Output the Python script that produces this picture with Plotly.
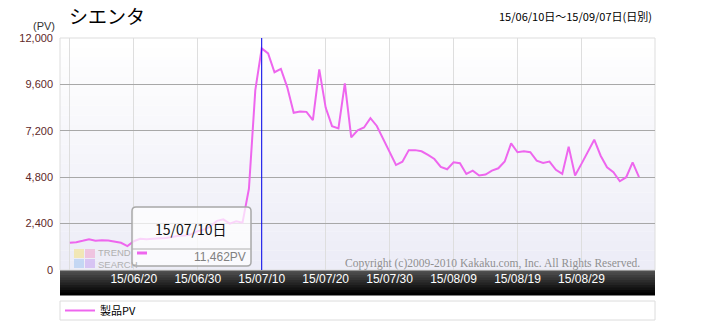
import plotly.graph_objects as go
import pandas as pd

# ---- data ----
start_date = "2015-06-10"
pv_values = [
    1410, 1440, 1510, 1590, 1510, 1540, 1530, 1460, 1410, 1240,
    1490, 1610, 1590, 1610, 1630, 1660, 1710, 1770, 1780, 1850,
    2010, 2090, 2260, 2540, 2620, 2400, 2520, 2450, 4200, 9300,
    11462, 11200, 10230, 10400, 9450, 8130, 8200, 8180, 7750, 10380,
    8400, 7440, 7320, 9650, 6860, 7230, 7370, 7850, 7450, 6800,
    6120, 5430, 5600, 6200, 6200, 6140, 5950, 5740, 5330, 5210,
    5570, 5520, 4970, 5140, 4890, 4940, 5140, 5260, 5610, 6550,
    6090, 6140, 6090, 5660, 5540, 5610, 5180, 4970, 6380, 4890,
    5490, 6090, 6740, 5910, 5310, 5060, 4590, 4800, 5570, 4800,
]
dates = pd.date_range(start_date, periods=len(pv_values), freq="D")
x_tick_dates = ["2015-06-10", "2015-06-20", "2015-06-30", "2015-07-10", "2015-07-20",
                "2015-07-30", "2015-08-09", "2015-08-19", "2015-08-29"]
x_tick_labels = ["", "15/06/20", "15/06/30", "15/07/10", "15/07/20",
                 "15/07/30", "15/08/09", "15/08/19", "15/08/29"]
y_tick_vals = [0, 2400, 4800, 7200, 9600, 12000]
y_tick_labels = ["0", "2,400", "4,800", "7,200", "9,600", "12,000"]
title_text = "シエンタ"
range_text = "15/06/10日～15/09/07日(日別)"
series_name = "製品PV"
copyright_text = "Copyright (c)2009-2010 Kakaku.com, Inc. All Rights Reserved."

# ---- geometry helpers (pixel -> paper) ----
W, H = 715, 321
L, R, T, B = 60, 655, 38, 270
def px(xp):
    return (xp - L) / (R - L)
def py(yp):
    return (B - yp) / (B - T)

peak_i = max(range(len(pv_values)), key=lambda i: pv_values[i])
peak_date = dates[peak_i]
peak_val = pv_values[peak_i]

fig = go.Figure()
fig.add_trace(go.Scatter(
    x=dates, y=pv_values, mode="lines", name=series_name,
    line=dict(color="#ee66ee", width=2), hoverinfo="skip",
))

shapes = []
# plot background gradient
nb = 24
for i in range(nb):
    t = i / (nb - 1)
    r = int(255 - 18 * t); g = int(255 - 18 * t); b = int(255 - 8 * t)
    shapes.append(dict(type="rect", xref="paper", yref="paper", layer="below",
                       x0=0, x1=1, y0=1 - (i + 1) / nb, y1=1 - i / nb,
                       fillcolor=f"rgb({r},{g},{b})", line=dict(width=0)))
# black axis band
nbb = 10
for i in range(nbb):
    t = i / (nbb - 1)
    c = int(80 * (1 - t))
    y0p = 270 + i * 25 / nbb
    shapes.append(dict(type="rect", xref="paper", yref="paper", layer="below",
                       x0=0, x1=1, y0=py(y0p + 25 / nbb + 0.5), y1=py(y0p),
                       fillcolor=f"rgb({c},{c},{c})", line=dict(width=0)))
# legend box
shapes.append(dict(type="rect", xref="paper", yref="paper", layer="below",
                   x0=0, x1=1, y0=py(320), y1=py(301),
                   fillcolor="white", line=dict(color="#dcdcdc", width=1)))
# frame
shapes.append(dict(type="rect", xref="paper", yref="paper", layer="below",
                   x0=0, x1=1, y0=0, y1=1, line=dict(color="#dddddd", width=1)))
# peak marker line
shapes.append(dict(type="line", xref="x", yref="paper", x0=peak_date, x1=peak_date,
                   y0=0, y1=1, line=dict(color="#0000ee", width=1)))

# logo squares (TREND SEARCH)
logo = [(74, 249, 84, 258, "#f4e38a"), (85, 249, 95, 258, "#f0a8d0"),
        (74, 259, 84, 268, "#a8c8f0"), (85, 259, 95, 268, "#c8a8f0")]
for x0, y0, x1, y1, c in logo:
    shapes.append(dict(type="rect", xref="paper", yref="paper", layer="above",
                       x0=px(x0), x1=px(x1), y0=py(y1), y1=py(y0),
                       fillcolor=c, opacity=0.6, line=dict(width=0)))

# tooltip rounded box
bx0, bx1, by0, by1, rr = 132, 251, 207, 266, 4
path = (f"M {px(bx0+rr)},{py(by0)} L {px(bx1-rr)},{py(by0)} "
        f"Q {px(bx1)},{py(by0)} {px(bx1)},{py(by0+rr)} L {px(bx1)},{py(by1-rr)} "
        f"Q {px(bx1)},{py(by1)} {px(bx1-rr)},{py(by1)} L {px(bx0+rr)},{py(by1)} "
        f"Q {px(bx0)},{py(by1)} {px(bx0)},{py(by1-rr)} L {px(bx0)},{py(by0+rr)} "
        f"Q {px(bx0)},{py(by0)} {px(bx0+rr)},{py(by0)} Z")
shapes.append(dict(type="path", xref="paper", yref="paper", layer="above", path=path,
                   fillcolor="rgba(255,255,255,0.72)", line=dict(color="#a8a8a8", width=1.5)))
shapes.append(dict(type="line", xref="paper", yref="paper", layer="above",
                   x0=px(bx0), x1=px(bx1), y0=py(249), y1=py(249),
                   line=dict(color="#b0b0b0", width=1)))
shapes.append(dict(type="line", xref="paper", yref="paper", layer="above",
                   x0=px(137), x1=px(147), y0=py(253), y1=py(253),
                   line=dict(color="#ee66ee", width=3)))

annotations = [
    dict(text=title_text, x=px(67), y=py(16), xref="paper", yref="paper",
         xanchor="left", yanchor="middle", showarrow=False,
         font=dict(family="Noto Sans CJK JP", size=19, color="#000000")),
    dict(text="(PV)", x=px(57), y=py(26), xref="paper", yref="paper",
         xanchor="right", yanchor="middle", showarrow=False,
         font=dict(family="Liberation Sans, Arial", size=11, color="#333333")),
    dict(text=range_text, x=px(654), y=py(16), xref="paper", yref="paper",
         xanchor="right", yanchor="middle", showarrow=False,
         font=dict(family="Noto Sans CJK JP", size=11, color="#000000")),
    dict(text=copyright_text, x=px(642), y=py(263), xref="paper", yref="paper",
         xanchor="right", yanchor="middle", showarrow=False,
         font=dict(family="Liberation Serif, Times New Roman", size=11.5, color="#909090")),
    dict(text="TREND<br>SEARCH", x=px(96), y=py(258), xref="paper", yref="paper",
         xanchor="left", yanchor="middle", showarrow=False, align="left",
         font=dict(family="Liberation Sans, Arial", size=9.5, color="#b0b0b0")),
    dict(text=peak_date.strftime("%y/%m/%d") + "日", x=px(191), y=py(229),
         xref="paper", yref="paper", xanchor="center", yanchor="middle", showarrow=False,
         font=dict(family="Noto Sans CJK JP", size=14, color="#111111")),
    dict(text=f"{peak_val:,}PV", x=px(248), y=py(257), xref="paper", yref="paper",
         xanchor="right", yanchor="middle", showarrow=False,
         font=dict(family="Liberation Sans, Arial", size=12, color="#808080")),
]

x0r = dates[0] - pd.Timedelta(hours=37)
x1r = dates[0] + pd.Timedelta(hours=int(24 * 91.5))
fig.update_layout(
    width=W, height=H,
    margin=dict(l=L, r=W - R, t=T, b=H - B, autoexpand=False),
    paper_bgcolor="white", plot_bgcolor="rgba(0,0,0,0)",
    shapes=shapes, annotations=annotations,
    showlegend=True,
    legend=dict(x=0, y=py(310.5), xanchor="left", yanchor="middle",
                bgcolor="rgba(0,0,0,0)", borderwidth=0, itemwidth=30,
                font=dict(family="Noto Sans CJK JP", size=11, color="#000000")),
    xaxis=dict(range=[x0r, x1r], tickvals=x_tick_dates, ticktext=x_tick_labels,
               showgrid=True, gridcolor="#dedede", gridwidth=1, zeroline=False,
               ticks="", showline=False, automargin=False,
               tickfont=dict(family="Liberation Sans, Arial", size=12, color="white")),
    yaxis=dict(range=[0, 12000], tickvals=y_tick_vals, ticktext=y_tick_labels,
               showgrid=True, gridcolor="#a8a8a8", gridwidth=1, zeroline=False,
               ticks="", showline=False, ticklabelstandoff=6, automargin=False,
               tickfont=dict(family="Liberation Sans, Arial", size=11, color="#602828")),
    hovermode=False,
)

fig.write_html("out.html", config={"displayModeBar": False})
